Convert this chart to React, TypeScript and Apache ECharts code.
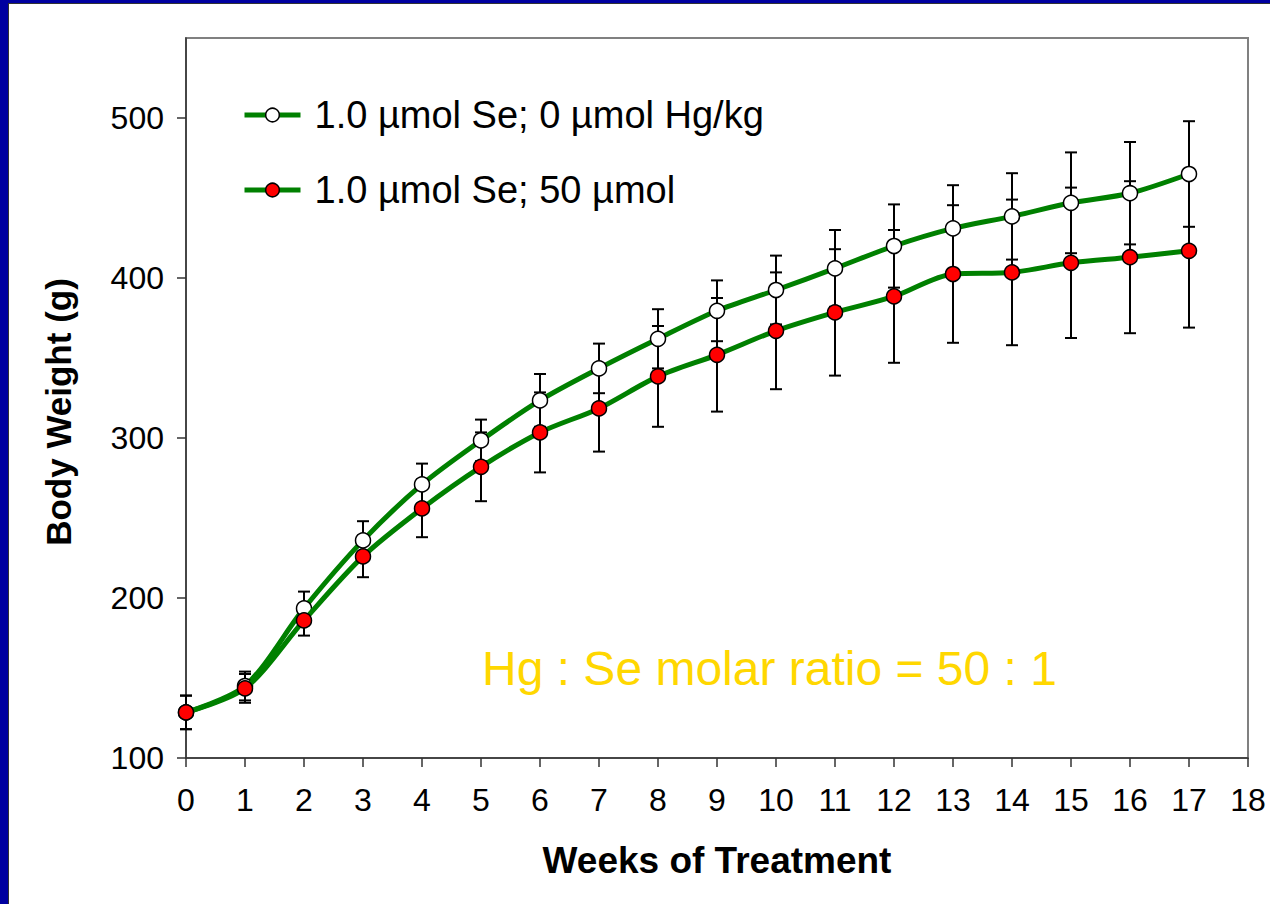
import React, { useEffect, useRef } from "react";
import * as echarts from "echarts";

const weeks = [0, 1, 2, 3, 4, 5, 6, 7, 8, 9, 10, 11, 12, 13, 14, 15, 16, 17];
const ctrlName = "1.0 µmol Se; 0 µmol Hg/kg";
const hgName = "1.0 µmol Se; 50 µmol";
const ctrlMean = [128.5, 145, 193.5, 236, 271, 298.5, 323.5, 343.5, 362, 379.5, 392.5, 406, 420, 431, 438.5, 447, 453, 465];
const ctrlErr = [10.5, 9, 10.5, 12, 13, 13, 16.5, 15.5, 18.5, 19, 21.5, 24, 26, 27, 27, 31.5, 32, 33];
const hgMean = [128.5, 143.5, 186, 226, 256, 282, 303.5, 318.5, 338.5, 352, 367, 378.5, 388.5, 402.5, 403.5, 409.5, 413, 417];
const hgErr = [10.5, 9, 9.5, 13, 18, 21.5, 25, 27, 31.5, 35.5, 36.5, 39.5, 41.5, 43, 45.5, 47, 47.5, 48];
const yTicks = [100, 200, 300, 400, 500];
const annotation = "Hg : Se molar ratio = 50 : 1";

const FONT = "'Liberation Sans', Arial, sans-serif";
const GREEN = "#008000";

function errorSeries(mean: number[], err: number[], z: number) {
  return {
    type: "custom",
    z,
    silent: true,
    data: weeks.map((w, i) => [w, mean[i] - err[i], mean[i] + err[i]]),
    encode: { x: 0, y: [1, 2] },
    renderItem: (params: any, api: any) => {
      const x = api.value(0);
      const top = api.coord([x, api.value(2)]);
      const bot = api.coord([x, api.value(1)]);
      const w = 6;
      const st = { stroke: "#000", lineWidth: 2 };
      return {
        type: "group",
        children: [
          { type: "line", shape: { x1: top[0], y1: top[1], x2: bot[0], y2: bot[1] }, style: st },
          { type: "line", shape: { x1: top[0] - w, y1: top[1], x2: top[0] + w, y2: top[1] }, style: st },
          { type: "line", shape: { x1: bot[0] - w, y1: bot[1], x2: bot[0] + w, y2: bot[1] }, style: st },
        ],
      };
    },
  };
}

function lineSeries(name: string, mean: number[], fill: string, z: number) {
  return {
    type: "line",
    name,
    z,
    data: weeks.map((w, i) => [w, mean[i]]),
    smooth: 0.3,
    symbol: "circle",
    symbolSize: 15,
    showAllSymbol: true,
    lineStyle: { color: GREEN, width: 5 },
    itemStyle: { color: fill, borderColor: "#000", borderWidth: 1.5 },
    emphasis: { disabled: true },
  };
}

export default function App() {
  const ref = useRef<HTMLDivElement>(null);
  useEffect(() => {
    if (!ref.current) return;
    const chart = echarts.init(ref.current, undefined, { renderer: "svg" });
    const legendBase = {
      left: 242,
      padding: 0,
      itemWidth: 56,
      itemHeight: 17,
      selectedMode: false,
      orient: "vertical",
      lineStyle: { width: 5, color: GREEN },
      itemStyle: { borderWidth: 1.5, borderColor: "#000" },
      textStyle: { fontSize: 38, color: "#000", fontFamily: FONT, padding: [0, 0, 0, 9] },
    };
    chart.setOption({
      animation: false,
      backgroundColor: "transparent",
      grid: {
        left: 186,
        top: 38,
        right: 22,
        bottom: 146,
        show: true,
        borderColor: "#808080",
        borderWidth: 2,
        backgroundColor: "#fff",
      },
      legend: [
        { ...legendBase, top: 96, data: [ctrlName] },
        { ...legendBase, top: 171, data: [hgName] },
      ],
      xAxis: {
        type: "value",
        min: 0,
        max: 18,
        interval: 1,
        axisLine: { show: true, lineStyle: { color: "#333", width: 1.5 } },
        axisTick: { show: true, length: 9, lineStyle: { color: "#333", width: 1.5 } },
        axisLabel: { fontSize: 32, color: "#000", fontFamily: FONT, margin: 26 },
        splitLine: { show: false },
      },
      yAxis: {
        type: "value",
        min: 100,
        max: 550,
        interval: 100,
        axisLine: { show: true, lineStyle: { color: "#333", width: 1.5 } },
        axisTick: { show: true, length: 9, lineStyle: { color: "#333", width: 1.5 }, customValues: yTicks },
        axisLabel: { fontSize: 32, color: "#000", fontFamily: FONT, margin: 22, customValues: yTicks },
        splitLine: { show: false },
      },
      graphic: [
        {
          type: "text",
          left: 482,
          top: 672 - 28,
          style: { text: annotation, fontSize: 48, fill: "#FFD700", fontFamily: FONT },
          z: 100,
        },
        {
          type: "text",
          x: 717,
          y: 860,
          style: {
            text: "Weeks of Treatment",
            fontSize: 37,
            fontWeight: "bold",
            fill: "#000",
            fontFamily: FONT,
            align: "center",
            verticalAlign: "middle",
          },
        },
        {
          type: "text",
          x: 58,
          y: 412,
          rotation: Math.PI / 2,
          style: {
            text: "Body Weight (g)",
            fontSize: 35,
            fontWeight: "bold",
            fill: "#000",
            fontFamily: FONT,
            align: "center",
            verticalAlign: "middle",
          },
        },
      ],
      series: [
        errorSeries(ctrlMean, ctrlErr, 1),
        errorSeries(hgMean, hgErr, 1),
        lineSeries(ctrlName, ctrlMean, "#fff", 3),
        lineSeries(hgName, hgMean, "#ff0000", 4),
      ],
    });
    return () => chart.dispose();
  }, []);
  return (
    <div style={{ position: "absolute", left: 0, top: 0, width: 1270, height: 904, background: "#0000A0" }}>
      <div
        style={{
          position: "absolute",
          left: 8,
          top: 3,
          right: 0,
          bottom: 0,
          background: "#fff",
          borderLeft: "1.5px solid #333",
          borderTop: "1.5px solid #333",
        }}
      />
      <div ref={ref} style={{ position: "absolute", left: 0, top: 0, width: 1270, height: 904 }} />
    </div>
  );
}
